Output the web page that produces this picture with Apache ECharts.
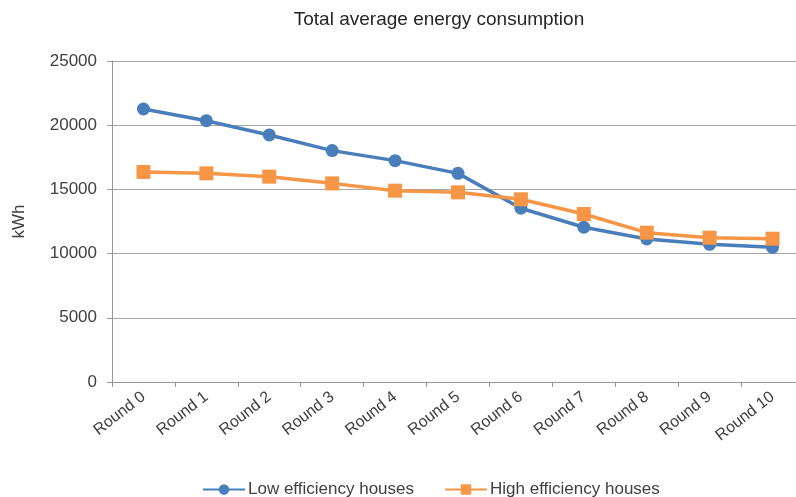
<!DOCTYPE html>
<html><head><meta charset="utf-8">
<script src="https://cdn.jsdelivr.net/npm/echarts@6/dist/echarts.min.js"></script>
<style>html,body{margin:0;padding:0;background:#fff;overflow:hidden;width:796px;height:497px}#c{width:812px;height:497px}</style>
</head><body><div id="c"></div>
<script>
var categories = ["Round 0","Round 1","Round 2","Round 3","Round 4","Round 5","Round 6","Round 7","Round 8","Round 9","Round 10"];
var lowEfficiency = [21260, 20350, 19240, 18020, 17240, 16250, 13530, 12050, 11140, 10720, 10490];
var highEfficiency = [16360, 16250, 15990, 15470, 14900, 14770, 14230, 13080, 11630, 11240, 11160];
var yTicks = [0, 5000, 10000, 15000, 20000, 25000];
var seriesNames = ["Low efficiency houses", "High efficiency houses"];

var font = "'Liberation Sans', Arial, sans-serif";
var chart = echarts.init(document.getElementById('c'));
chart.setOption({
  animation: false,
  title: {text: "Total average energy consumption", left: 434, top: 5, textAlign: 'center',
    textStyle: {fontSize: 19, fontWeight: 'normal', color: '#262626', fontFamily: font}},
  legend: {top: 476, left: 197, itemGap: 30, itemWidth: 42, itemHeight: 13,
    textStyle: {fontSize: 17, color: '#404040', fontFamily: font, padding: [0,0,0,-2]},
    data: seriesNames},
  grid: {left: 112, top: 61, width: 692, bottom: 115},
  xAxis: {type: 'category', data: categories, boundaryGap: true,
    axisLine: {lineStyle: {color: '#969696', width: 1}},
    axisTick: {show: true, length: 5, lineStyle: {color: '#969696'}},
    axisLabel: {rotate: 38, fontSize: 16, color: '#404040', fontFamily: font, margin: 13, interval: 0}},
  yAxis: {type: 'value', min: yTicks[0], max: yTicks[yTicks.length-1], interval: 5000,
    name: 'kWh', nameLocation: 'middle', nameGap: 84, nameRotate: 90,
    nameTextStyle: {fontSize: 17, color: '#404040', fontFamily: font},
    axisLine: {show: true, lineStyle: {color: '#969696'}},
    axisTick: {show: true, length: 5, lineStyle: {color: '#969696'}},
    axisLabel: {fontSize: 17, color: '#404040', fontFamily: font, margin: 15,
      formatter: function (v) { return String(v); }},
    splitLine: {lineStyle: {color: '#a6a6a6', width: 1}}},
  series: [
    {name: seriesNames[0], type: 'line', data: lowEfficiency, symbol: 'circle', symbolSize: 13,
      lineStyle: {color: '#4A7EBB', width: 3.5}, itemStyle: {color: '#4A7EBB'}},
    {name: seriesNames[1], type: 'line', data: highEfficiency, symbol: 'rect', symbolSize: 14,
      lineStyle: {color: '#F79646', width: 3.5}, itemStyle: {color: '#F79646'}}
  ]
});
</script></body></html>
